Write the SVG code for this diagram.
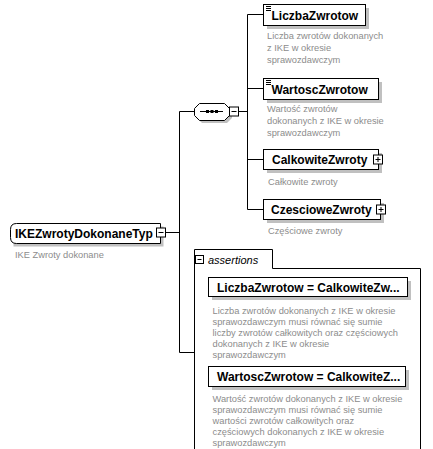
<svg xmlns="http://www.w3.org/2000/svg" width="433" height="449" viewBox="0 0 433 449">
<style>
.bg{fill:#fff}
.box{fill:#fff;stroke:#000;stroke-width:1}
.sh{fill:#c0c0c0}
.ln{fill:none;stroke:#000;stroke-width:1}
.nm{font-family:"Liberation Sans",Arial,sans-serif;font-weight:bold;font-size:12px;fill:#000}
.ds{font-family:"Liberation Sans",Arial,sans-serif;font-size:9.3px;fill:#8c8c8c}
.it{font-family:"Liberation Sans",Arial,sans-serif;font-style:italic;font-size:11px;fill:#000}
</style>
<defs>
<g id="minus"><rect class="box" x="0" y="0" width="9" height="9"/><path class="ln" d="M2,4.5H7"/></g>
<g id="plus"><rect class="box" x="0" y="0" width="9" height="9"/><path class="ln" d="M2,4.5H7M4.5,2V7"/></g>
<g id="doc"><rect x="0" y="1" width="5" height="1" fill="#000"/><rect x="0" y="3" width="5" height="1" fill="#000"/><rect x="0" y="5" width="5" height="1" fill="#000"/></g>
</defs>
<rect class="bg" width="433" height="449"/>
<g id="connectors">
<path class="ln" d="M165.5,232.5H179.5M179.5,111.5V352.5M179.5,111.5H194.5M179.5,352.5H194.5"/>
<path class="ln" d="M238.5,111.5H247.5M247.5,14.5V209.5M247.5,14.5H263.5M247.5,88.5H263.5M247.5,159.5H263.5M247.5,209.5H263.5"/>
</g>
<g id="root">
<path class="sh" d="M13.5,226.5H163.5V246.5H13.5Z"/>
<path class="box" d="M16.5,223.5H160.5V243.5H16.5Q10.5,243.5 10.5,237.5V229.5Q10.5,223.5 16.5,223.5Z"/>
<text class="nm" x="15" y="237.5">IKEZwrotyDokonaneTyp</text>
<use href="#minus" x="156.5" y="228"/>
<text class="ds" x="15" y="258">IKE Zwroty dokonane</text>
</g>
<g id="sequence">
<path class="sh" d="M202,106H227L232,111V118L227,123H202L197,118V111Z"/>
<path class="box" d="M199.5,103.5H224.5L229.5,108.5V115.5L224.5,120.5H199.5L194.5,115.5V108.5Z"/>
<path class="ln" d="M200,111.5H223"/>
<rect x="206" y="110" width="3" height="3" fill="#000"/>
<rect x="210.5" y="110" width="3" height="3" fill="#000"/>
<rect x="215" y="110" width="3" height="3" fill="#000"/>
<use href="#minus" x="229.5" y="107"/>
</g>
<g id="LiczbaZwrotow">
<rect class="sh" x="267" y="8" width="102" height="21"/>
<rect class="box" x="263.5" y="4.5" width="102" height="21"/>
<use href="#doc" x="266" y="5"/>
<text class="nm" x="271.5" y="19.5">LiczbaZwrotow</text>
<text class="ds" x="267" y="39">Liczba zwrotów dokonanych</text>
<text class="ds" x="267" y="51">z IKE w okresie</text>
<text class="ds" x="267" y="63">sprawozdawczym</text>
</g>
<g id="WartoscZwrotow">
<rect class="sh" x="267" y="82" width="115" height="21"/>
<rect class="box" x="263.5" y="78.5" width="115" height="21"/>
<use href="#doc" x="266" y="79"/>
<text class="nm" x="271.5" y="93.5">WartoscZwrotow</text>
<text class="ds" x="267" y="112">Wartość zwrotów</text>
<text class="ds" x="267" y="124">dokonanych z IKE w okresie</text>
<text class="ds" x="267" y="136">sprawozdawczym</text>
</g>
<g id="CalkowiteZwroty">
<rect class="sh" x="267" y="153" width="115" height="20"/>
<rect class="box" x="263.5" y="149.5" width="115" height="20"/>
<text class="nm" x="272" y="164">CalkowiteZwroty</text>
<use href="#plus" x="373.5" y="155"/>
<text class="ds" x="268" y="185">Całkowite zwroty</text>
</g>
<g id="CzescioweZwroty">
<rect class="sh" x="267" y="203" width="117" height="20"/>
<rect class="box" x="263.5" y="199.5" width="117" height="20"/>
<text class="nm" x="271" y="214">CzescioweZwroty</text>
<use href="#plus" x="376.5" y="205"/>
<text class="ds" x="268" y="234">Częściowe zwroty</text>
</g>
<g id="assertions">
<path class="box" d="M194.5,460V249.5H272.5V268.5H420.5V460"/>
<rect class="box" x="195.5" y="255.5" width="8" height="8"/>
<path class="ln" d="M197.5,259.5H201.5"/>
<text class="it" x="208" y="263.5">assertions</text>
</g>
<g id="assertion1">
<rect class="sh" x="212" y="281" width="199" height="19"/>
<rect class="box" x="208.5" y="277.5" width="199" height="19"/>
<text class="nm" x="217" y="291.5">LiczbaZwrotow = CalkowiteZw...</text>
<text class="ds" x="212.5" y="314">Liczba zwrotów dokonanych z IKE w okresie</text>
<text class="ds" x="212.5" y="325">sprawozdawczym musi równać się sumie</text>
<text class="ds" x="212.5" y="336">liczby zwrotów całkowitych oraz częściowych</text>
<text class="ds" x="212.5" y="347">dokonanych z IKE w okresie</text>
<text class="ds" x="212.5" y="358">sprawozdawczym</text>
</g>
<g id="assertion2">
<rect class="sh" x="212" y="370" width="197" height="20"/>
<rect class="box" x="208.5" y="366.5" width="197" height="20"/>
<text class="nm" x="217" y="381">WartoscZwrotow = CalkowiteZ...</text>
<text class="ds" x="212.5" y="402">Wartość zwrotów dokonanych z IKE w okresie</text>
<text class="ds" x="212.5" y="413">sprawozdawczym musi równać się sumie</text>
<text class="ds" x="212.5" y="424">wartości zwrotów całkowitych oraz</text>
<text class="ds" x="212.5" y="435">częściowych dokonanych z IKE w okresie</text>
<text class="ds" x="212.5" y="446">sprawozdawczym</text>
</g>
</svg>
